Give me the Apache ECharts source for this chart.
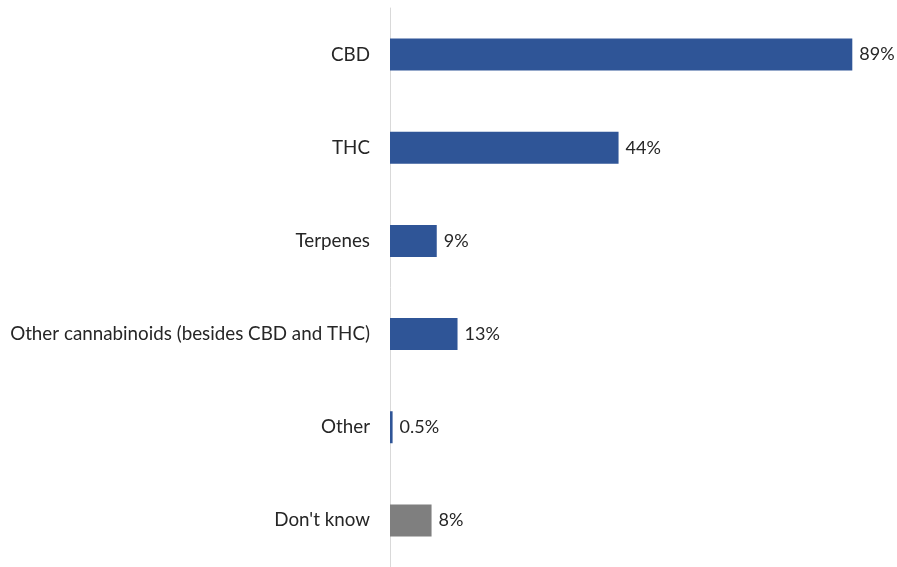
<!DOCTYPE html>
<html>
<head>
<meta charset="utf-8">
<script src="https://cdn.jsdelivr.net/npm/echarts@6/dist/echarts.min.js"></script>
<style>html,body{margin:0;padding:0;background:#fff}#c{width:897px;height:567px}</style>
</head>
<body>
<div id="c"></div>
<script>
const categories = ["CBD", "THC", "Terpenes", "Other cannabinoids (besides CBD and THC)", "Other", "Don't know"];
const values = [89, 44, 9, 13, 0.5, 8];
const barColors = ["#2F5597", "#2F5597", "#2F5597", "#2F5597", "#2F5597", "#7F7F7F"];

const chart = echarts.init(document.getElementById('c'));
chart.setOption({
  animation: false,
  textStyle: { fontFamily: "Lato, 'Open Sans', sans-serif" },
  grid: { left: 390, right: 39.5, top: 8, bottom: 0, containLabel: false },
  xAxis: { type: 'value', min: 0, max: 90, show: false },
  yAxis: {
    type: 'category', data: categories, inverse: true,
    axisLine: { show: true, lineStyle: { color: '#D9D9D9', width: 1 } },
    axisTick: { show: false },
    axisLabel: { color: '#262626', fontSize: 18.8, margin: 20, fontFamily: "Lato, sans-serif" }
  },
  series: [{
    type: 'bar', barWidth: 32,
    data: values.map((v, i) => ({ value: v, itemStyle: { color: barColors[i] } })),
    label: { show: true, position: 'right', distance: 7, color: '#262626', fontSize: 18, fontFamily: "Lato, sans-serif", formatter: p => p.value + '%' }
  }]
});
</script>
</body>
</html>
